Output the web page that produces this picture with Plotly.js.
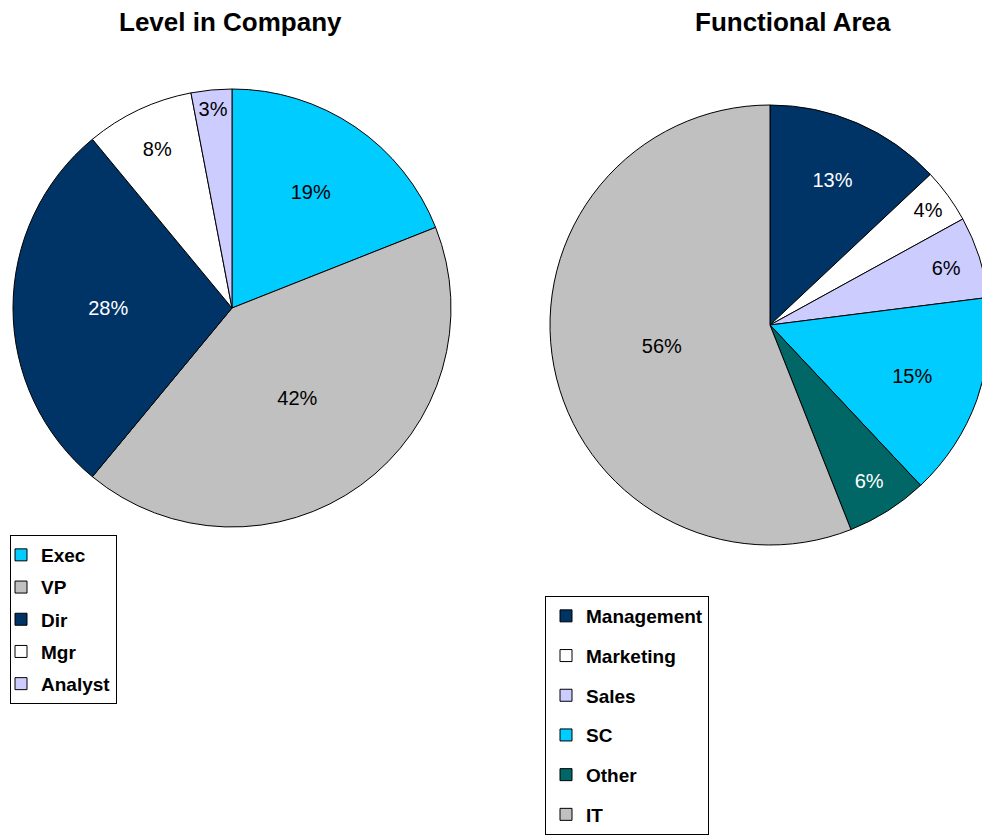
<!DOCTYPE html>
<html>
<head>
<meta charset="utf-8">
<script src="https://cdn.plot.ly/plotly-3.0.1.min.js"></script>
<style>
html,body{margin:0;padding:0;overflow:hidden;background:#fff;}
#chart{width:1000px;height:860px;}
</style>
</head>
<body>
<div id="chart"></div>
<script>
// Data
const levelLabels = ["Exec", "VP", "Dir", "Mgr", "Analyst"];
const levelValues = [19, 42, 28, 8, 3];
const levelColors = ["#00CCFF", "#C0C0C0", "#003366", "#FFFFFF", "#CCCCFF"];
const levelTextColors = ["#000000", "#000000", "#FFFFFF", "#000000", "#000000"];

const areaLabels = ["Management", "Marketing", "Sales", "SC", "Other", "IT"];
const areaValues = [13, 4, 6, 15, 6, 56];
const areaColors = ["#003366", "#FFFFFF", "#CCCCFF", "#00CCFF", "#006666", "#C0C0C0"];
const areaTextColors = ["#FFFFFF", "#000000", "#000000", "#000000", "#FFFFFF", "#000000"];

const titles = ["Level in Company", "Functional Area"];

const W = 1000, H = 860;
const FONT = "Liberation Sans, Arial, sans-serif";

function pieTrace(labels, values, colors, textColors, domain) {
  return {
    type: "pie",
    labels: labels,
    values: values,
    sort: false,
    direction: "clockwise",
    rotation: 0,
    domain: domain,
    marker: {colors: colors, line: {color: "#000000", width: 1}},
    texttemplate: "%{percent:.0%}",
    textposition: "inside",
    insidetextorientation: "horizontal",
    insidetextfont: {family: FONT, size: 20, color: textColors},
    showlegend: false,
    hoverinfo: "label+percent"
  };
}

function legendTraces(labels, colors, legendId, prefix) {
  return labels.map((lab, i) => ({
    type: "scatter",
    mode: "markers",
    x: [null], y: [null],
    name: lab,
    legend: legendId,
    legendgroup: prefix + i,
    marker: {symbol: "square", size: 12, color: colors[i], line: {color: "#000000", width: 1}},
    hoverinfo: "skip"
  }));
}

const data = [
  pieTrace(levelLabels, levelValues, levelColors, levelTextColors,
    {x: [12 / W, 452 / W], y: [1 - 527 / H, 1 - 89 / H]}),
  pieTrace(areaLabels, areaValues, areaColors, areaTextColors,
    {x: [550 / W, 990 / W], y: [1 - 545 / H, 1 - 105 / H]})
].concat(
  legendTraces(levelLabels, levelColors, "legend", "l"),
  legendTraces(areaLabels, areaColors, "legend2", "a")
);

const legendCommon = {
  bgcolor: "#FFFFFF",
  bordercolor: "#000000",
  borderwidth: 1,
  font: {family: FONT, size: 19, color: "#000000", weight: "bold"},
  xanchor: "left",
  yanchor: "top",
  traceorder: "grouped",
  itemclick: false,
  itemdoubleclick: false
};

const layout = {
  width: W,
  height: H,
  margin: {l: 0, r: 0, t: 0, b: 0},
  paper_bgcolor: "#FFFFFF",
  plot_bgcolor: "#FFFFFF",
  showlegend: true,
  xaxis: {visible: false, domain: [0, 0.01], range: [0, 1]},
  yaxis: {visible: false, domain: [0, 0.01], range: [0, 1]},
  legend: Object.assign({}, legendCommon, {x: 10 / W, y: 1 - 535 / H, tracegroupgap: 4.5, indentation: -10}),
  legend2: Object.assign({}, legendCommon, {x: 545 / W, y: 1 - 596 / H, tracegroupgap: 12}),
  annotations: [
    {text: titles[0], x: 230 / W, y: 1 - 22 / H, xref: "paper", yref: "paper",
     xanchor: "center", yanchor: "middle", showarrow: false,
     font: {family: FONT, size: 26, color: "#000000", weight: "bold"}},
    {text: titles[1], x: 793 / W, y: 1 - 22 / H, xref: "paper", yref: "paper",
     xanchor: "center", yanchor: "middle", showarrow: false,
     font: {family: FONT, size: 26, color: "#000000", weight: "bold"}}
  ]
};

Plotly.newPlot("chart", data, layout, {displayModeBar: false});
</script>
</body>
</html>
